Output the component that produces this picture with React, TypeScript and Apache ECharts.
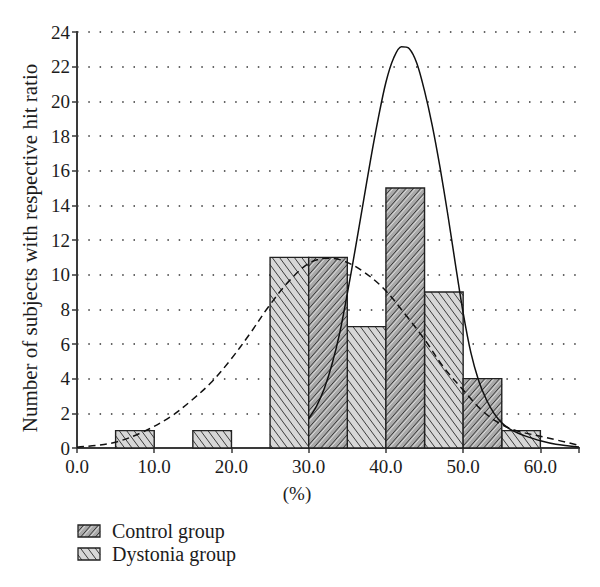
import { useEffect, useRef } from "react";
import * as echarts from "echarts";

// ---- data ----
const xTickValues = [0, 10, 20, 30, 40, 50, 60];
const yTickValues = [0, 2, 4, 6, 8, 10, 12, 14, 16, 18, 20, 22, 24];
// [binStart, binEnd, count]
const dystoniaBins: number[][] = [
  [5, 10, 1],
  [15, 20, 1],
  [25, 30, 11],
  [35, 40, 7],
  [45, 50, 9],
  [55, 60, 1],
];
const controlBins: number[][] = [
  [30, 35, 11],
  [40, 45, 15],
  [50, 55, 4],
];
// fitted curves
const controlCurve: number[][] = [
  [30, 1.7], [31, 2.4], [32, 3.4], [33, 4.8], [34, 6.6], [35, 8.9], [36, 11.4],
  [37, 14.0], [38, 16.6], [39, 19.0], [40, 21.1], [41, 22.5], [42, 23.15],
  [43, 23.05], [44, 22.2], [45, 20.6], [46, 18.6], [47, 16.2], [48, 13.5], [49, 10.6],
  [50, 7.8], [51, 5.5], [52, 3.9], [53, 2.8], [54, 2.0], [55, 1.45], [56, 1.1],
  [57, 0.88], [58, 0.7], [60, 0.42], [62, 0.22], [65, 0.06],
];
const dystoniaCurve: number[][] = [
  [0, 0.05], [2.5, 0.15], [5.2, 0.36], [8.6, 0.94], [12.1, 1.8], [14.7, 2.7],
  [17.3, 3.75], [19.9, 5.1], [22.4, 6.6], [24.8, 8.15], [27.6, 9.7], [30.2, 10.7],
  [32.5, 10.95], [34.5, 10.8], [37, 10.2], [39.7, 9.2], [42.7, 7.6], [45.1, 6.2],
  [47.4, 4.7], [50, 3.35], [52.6, 2.1], [54.8, 1.4], [56.9, 1.0], [60.8, 0.6], [65, 0.15],
];
const seriesNames = ["Control group", "Dystonia group"];
const xAxisTitle = "(%)";
const yAxisTitle = "Number of subjects with respective hit ratio";

const FONT = "'Liberation Serif', 'Times New Roman', serif";
const TEXT = "#1c1c1c";
const FRAME = "#3a3a3a";
const DYS_FILL = "#d7d7d7";
const CTL_FILL = "#a9a9a9";

function hatchLines(x0: number, y0: number, x1: number, y1: number, slope: number, spacing: number, phase: number) {
  const segs: number[][] = [];
  const inv = 1 / slope;
  const cands = [x0 - y0 * inv, x0 - y1 * inv, x1 - y0 * inv, x1 - y1 * inv];
  const kmin = Math.floor((Math.min(...cands) - phase) / spacing) - 1;
  const kmax = Math.ceil((Math.max(...cands) - phase) / spacing) + 1;
  for (let k = kmin; k <= kmax; k++) {
    const b = k * spacing + phase;
    let ya = (x0 - b) * slope;
    let yb = (x1 - b) * slope;
    if (ya > yb) { const t = ya; ya = yb; yb = t; }
    const ys = Math.max(ya, y0);
    const ye = Math.min(yb, y1);
    if (ye - ys > 0.4) segs.push([b + ys * inv, ys, b + ye * inv, ye]);
  }
  return segs;
}

function hatchedRect(x0: number, y0: number, x1: number, y1: number, kind: "control" | "dystonia", border: number) {
  const children: any[] = [];
  const fill = kind === "control" ? CTL_FILL : DYS_FILL;
  children.push({ type: "rect", shape: { x: x0, y: y0, width: x1 - x0, height: y1 - y0 }, style: { fill, stroke: "none" } });
  if (kind === "control") {
    for (const s of hatchLines(x0, y0, x1, y1, -1.15, 7.4, 0)) {
      children.push({ type: "line", shape: { x1: s[0], y1: s[1], x2: s[2], y2: s[3] }, style: { stroke: "#2a2a2a", lineWidth: 0.9 } });
    }
    for (const s of hatchLines(x0, y0, x1, y1, -1.15, 7.4, 2.2)) {
      children.push({ type: "line", shape: { x1: s[0], y1: s[1], x2: s[2], y2: s[3] }, style: { stroke: "#f2f2f2", lineWidth: 0.7 } });
    }
  } else {
    for (const s of hatchLines(x0, y0, x1, y1, 1.35, 7.4, 0)) {
      children.push({ type: "line", shape: { x1: s[0], y1: s[1], x2: s[2], y2: s[3] }, style: { stroke: "#2a2a2a", lineWidth: 0.9 } });
    }
  }
  children.push({ type: "rect", shape: { x: x0, y: y0, width: x1 - x0, height: y1 - y0 }, style: { fill: "none", stroke: "#222", lineWidth: border } });
  return children;
}

const makeRender = (kind: "control" | "dystonia") => (_params: any, api: any) => {
  const s = api.value(0);
  const e = api.value(1);
  const v = api.value(2);
  const p0 = api.coord([s, v]);
  const p1 = api.coord([e, 0]);
  return { type: "group", children: hatchedRect(p0[0], p0[1], p1[0], p1[1], kind, 1.4) };
};

export default function App() {
  const ref = useRef<HTMLDivElement>(null);
  useEffect(() => {
    if (!ref.current) return;
    const chart = echarts.init(ref.current, undefined, { renderer: "svg" });

    const legendGraphics: any[] = [
      { type: "group", children: hatchedRect(78, 525, 100, 537, "control", 1.3) },
      { type: "group", children: hatchedRect(78, 548, 100, 560, "dystonia", 1.3) },
      { type: "text", x: 112, y: 531, style: { text: seriesNames[0], font: `20px ${FONT}`, fill: TEXT, textVerticalAlign: "middle" } },
      { type: "text", x: 112, y: 554, style: { text: seriesNames[1], font: `20px ${FONT}`, fill: TEXT, textVerticalAlign: "middle" } },
      { type: "text", x: 297, y: 493, style: { text: xAxisTitle, font: `19px ${FONT}`, fill: TEXT, textAlign: "center", textVerticalAlign: "middle" } },
      { type: "text", x: 30, y: 248, rotation: Math.PI / 2, style: { text: yAxisTitle, font: `21px ${FONT}`, fill: TEXT, textAlign: "center", textVerticalAlign: "middle" } },
    ];

    chart.setOption({
      animation: false,
      backgroundColor: "#ffffff",
      grid: { left: 77, right: 21, top: 32, bottom: 139, containLabel: false },
      xAxis: [
        {
          type: "value", min: 0, max: 65, interval: 10,
          axisLine: { show: true, lineStyle: { color: FRAME, width: 2 } },
          axisTick: { show: false },
          splitLine: { show: false },
          axisLabel: {
            color: TEXT, fontFamily: FONT, fontSize: 19, lineHeight: 16, margin: 10, showMaxLabel: false,
            formatter: (v: number) => (xTickValues.includes(v) ? v.toFixed(1) : ""),
          },
        },
        {
          type: "value", min: 0, max: 65, interval: 10, position: "top",
          axisLine: { show: true, lineStyle: { color: FRAME, width: 2 } },
          axisTick: { show: true, inside: true, length: 5, lineStyle: { color: FRAME, width: 1.5 } },
          axisLabel: { show: false },
          splitLine: { show: false },
        },
      ],
      yAxis: [
        {
          type: "value", min: 0, max: 24, interval: 2,
          axisLine: { show: true, lineStyle: { color: FRAME, width: 2 } },
          axisTick: { show: false },
          axisLabel: {
            color: TEXT, fontFamily: FONT, fontSize: 19, lineHeight: 14, margin: 7,
            formatter: (v: number) => (yTickValues.includes(v) ? String(v) : ""),
          },
          splitLine: { show: true, lineStyle: { color: "#333", width: 1.5, type: [1.5, 9.8] } },
        },
        {
          type: "value", min: 0, max: 24, interval: 2, position: "right",
          axisLine: { show: true, lineStyle: { color: FRAME, width: 2 } },
          axisTick: { show: true, inside: true, length: 5, lineStyle: { color: FRAME, width: 1.5 } },
          axisLabel: { show: false },
          splitLine: { show: false },
        },
      ],
      series: [
        {
          name: seriesNames[1], type: "custom", xAxisIndex: 0, yAxisIndex: 0,
          renderItem: makeRender("dystonia"), encode: { x: [0, 1], y: 2 },
          data: dystoniaBins, silent: true,
        },
        {
          name: seriesNames[0], type: "custom", xAxisIndex: 0, yAxisIndex: 0,
          renderItem: makeRender("control"), encode: { x: [0, 1], y: 2 },
          data: controlBins, silent: true,
        },
        {
          name: "Control fit", type: "line", data: controlCurve, smooth: 0.3,
          showSymbol: false, silent: true, z: 5,
          lineStyle: { color: "#111", width: 1.5 },
        },
        {
          name: "Dystonia fit", type: "line", data: dystoniaCurve, smooth: 0.35,
          showSymbol: false, silent: true, z: 5,
          lineStyle: { color: "#111", width: 1.5, type: [7, 4.5] },
        },
      ],
      graphic: legendGraphics,
    });

    return () => chart.dispose();
  }, []);

  return (
    <div
      ref={ref}
      style={{ position: "fixed", left: 0, top: 0, width: 600, height: 587, background: "#fff" }}
    />
  );
}
